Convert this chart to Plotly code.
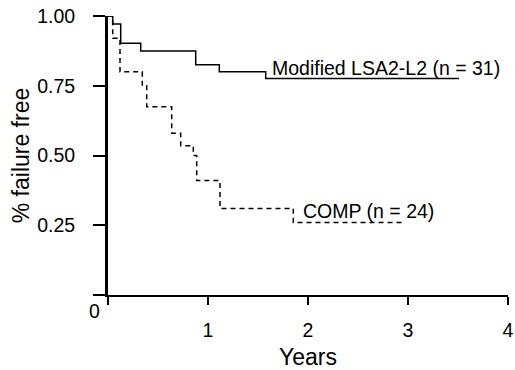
import plotly.graph_objects as go

# Kaplan-Meier steps (years, fraction failure free)
lsa_years = [0.0, 0.047, 0.127, 0.327, 0.877, 1.113, 1.577, 3.51]
lsa_surv = [1.00, 0.971, 0.902, 0.875, 0.825, 0.800, 0.776, 0.776]

comp_years = [0.0, 0.047, 0.12, 0.343, 0.387, 0.637, 0.727, 0.853, 0.887, 1.12, 1.853, 2.97]
comp_surv = [1.00, 0.92, 0.80, 0.75, 0.675, 0.58, 0.535, 0.50, 0.41, 0.31, 0.26, 0.26]

y_ticks = [0, 0.25, 0.5, 0.75, 1.0]
y_labels = ["", "0.25", "0.50", "0.75", "1.00"]
x_ticks = [0, 1, 2, 3, 4]
x_labels = ["", "1", "2", "3", "4"]

FONT = "Liberation Sans, Arial, Helvetica, sans-serif"
FS = 19.5

fig = go.Figure()
fig.add_trace(go.Scatter(x=lsa_years, y=lsa_surv, mode="lines", line_shape="hv",
                         line=dict(color="black", width=1.5), showlegend=False))
fig.add_trace(go.Scatter(x=comp_years, y=comp_surv, mode="lines", line_shape="hv",
                         line=dict(color="black", width=1.5, dash="5px,4px"), showlegend=False))

fig.add_annotation(x=1.62, y=0.814, text="Modified LSA2-L2 (n = 31)", showarrow=False,
                   xanchor="left", yanchor="middle", font=dict(size=FS))
fig.add_annotation(x=1.93, y=0.30, text="COMP (n = 24)", showarrow=False,
                   xanchor="left", yanchor="middle", font=dict(size=FS))
# the lone "0" at the origin
fig.add_annotation(x=0, y=0, text="0", showarrow=False, xanchor="right", yanchor="top",
                   xshift=-6, yshift=-3, font=dict(size=FS))

fig.update_layout(
    width=515, height=370,
    margin=dict(l=108, r=7, t=16, b=75),
    paper_bgcolor="white", plot_bgcolor="white",
    font=dict(family=FONT, size=FS, color="black"),
    xaxis=dict(range=[0, 4], tickvals=x_ticks, ticktext=x_labels, ticks="outside",
               ticklen=8, tickwidth=1.5, tickcolor="black", ticklabelstandoff=9,
               ticklabeloverflow="allow",
               showline=True, linecolor="black", linewidth=2, showgrid=False, zeroline=False,
               automargin=False, title=dict(text="Years", standoff=26)),
    yaxis=dict(range=[0, 1], tickvals=y_ticks, ticktext=y_labels, ticks="outside",
               ticklen=12, tickwidth=1.5, tickcolor="black", ticklabelstandoff=14,
               ticklabeloverflow="allow",
               showline=True, linecolor="black", linewidth=3, showgrid=False, zeroline=False,
               automargin=False, title=dict(text="% failure free", standoff=2)),
)

# drop the browser's default 8px body margin so the figure fills the window
fig.write_html("out.html", config={"displayModeBar": False},
               post_script="document.body.style.margin='0';")
